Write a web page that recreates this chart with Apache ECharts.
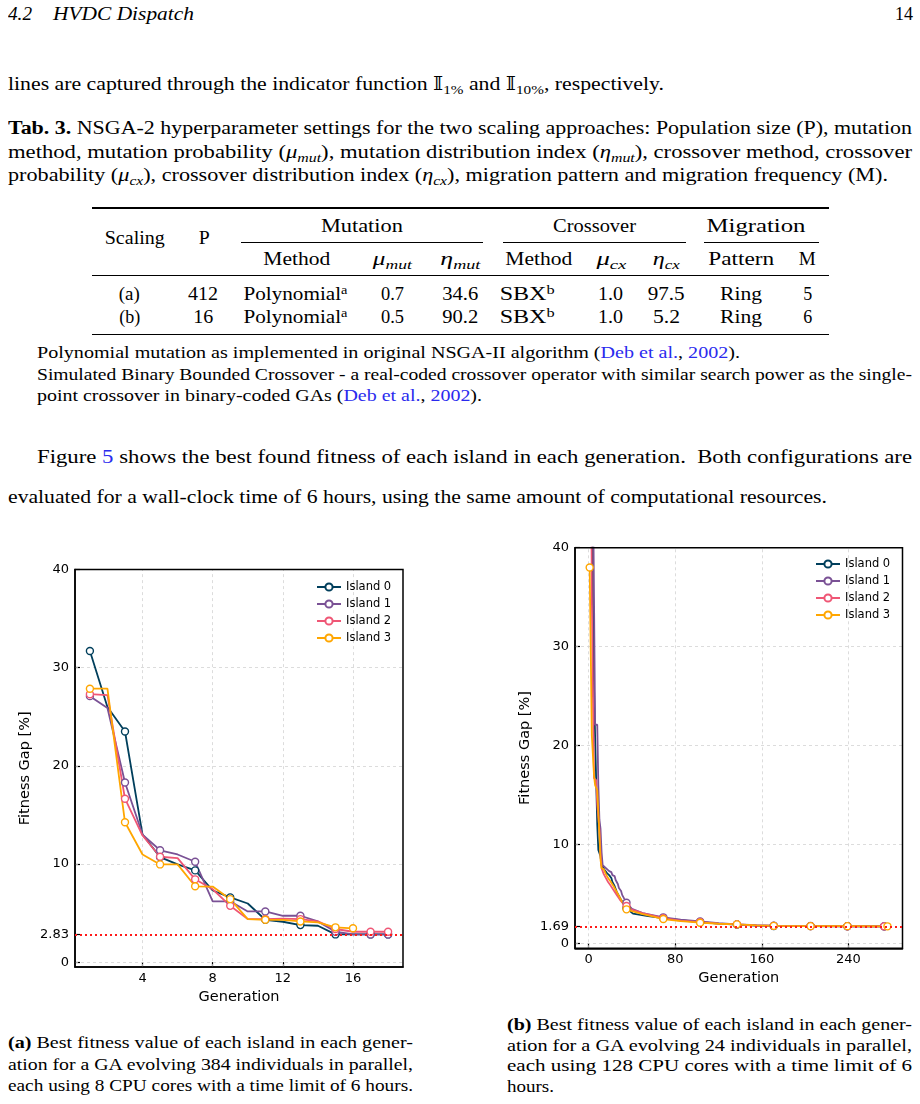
<!DOCTYPE html>
<html><head><meta charset="utf-8">
<script src="https://cdn.jsdelivr.net/npm/echarts@6/dist/echarts.min.js"></script>
<style>
html,body{margin:0;padding:0;background:#fff;}
body{width:920px;height:1104px;position:relative;overflow:hidden;font-family:'Liberation Serif','Times New Roman',Tinos,'DejaVu Serif','Noto Serif',serif;color:#000;}
.ln{position:absolute;white-space:nowrap;transform-origin:0 50%;}
.cw{position:absolute;width:400px;text-align:center;white-space:nowrap;}
.cw span.in{display:inline-block;}
.rule{position:absolute;background:#000;}
sub{font-size:0.7em;vertical-align:-0.3em;line-height:0;}
sup{font-size:0.68em;vertical-align:0.45em;line-height:0;}
.lk{color:#2a2aee;}
.bb{font-family:'DejaVu Serif','DejaVu Sans',serif;}
#chart{position:absolute;left:0;top:530px;width:920px;height:480px;}
</style></head><body>
<div id="chart"></div>
<script>
// ---------------- data: chart (a) ----------------
const generationsA = [1,2,3,4,5,6,7,8,9,10,11,12,13,14,15,16,17,18];
const island0A = [31.7,26.0,23.5,13.0,10.7,9.96,9.35,7.3,6.6,5.98,4.32,4.12,3.78,3.71,2.83,2.83,2.83,2.83];
const island1A = [27.1,25.9,18.3,13.0,11.4,10.97,10.23,6.2,6.2,5.17,5.17,4.73,4.73,4.15,3.1,2.83,2.83,2.83];
const island2A = [27.3,27.2,16.65,12.9,10.74,10.6,8.44,7.43,5.74,4.39,4.39,4.43,4.39,4.15,3.38,3.1,3.1,3.1];
const island3A = [27.86,27.86,14.25,10.97,9.96,9.96,7.73,7.7,6.42,4.39,4.32,4.32,4.15,4.05,3.55,3.45];
const ticksXA = [4,8,12,16];
const ticksYA = [0,2.83,10,20,30,40];
const refGapA = 2.83;

// ---------------- data: chart (b) ----------------
const gensB0 = [1,3,4,5,6,7,8,9,11,12,15,17,19,21,22,24,26,28,30,33,35,41,48,55,69,85,103,120,137,155,171,205,239,273];
const gapB0  = [80,52,34.3,26,21,16.5,12,9.45,8.8,7.9,7.4,7.1,6.9,6.6,6.2,5.8,5.2,4.8,4.4,3.9,3.55,3.0,2.87,2.75,2.55,2.35,2.15,2.0,1.9,1.8,1.76,1.74,1.73,1.72];
const gensB1 = [1,3,5,6,8,9,10,11,12,13,15,17,19,21,22,24,25,27,28,30,31,33,35,40,50,69,85,103,120,137,155,171,205,239,273];
const gapB1  = [90,60,35,22.1,22.1,16,12.5,11.6,9.2,7.9,7.7,7.5,7.3,7.2,6.9,6.8,6.4,6.0,5.6,5.3,4.9,4.5,4.11,3.5,3.05,2.63,2.4,2.22,2.05,1.92,1.83,1.78,1.75,1.74,1.72];
const gensB2 = [1,2,3,4,5,7,8,10,11,12,14,16,18,20,23,26,29,32,35,40,50,69,85,103,120,137,155,171,205,239,273];
const gapB2  = [85,55,35,25,16.7,16.5,14,11.5,9,7.6,7.0,6.6,6.2,5.9,5.4,4.9,4.4,4.0,3.78,3.4,3.05,2.55,2.3,2.15,2.0,1.92,1.82,1.77,1.74,1.73,1.72];
const gensB3 = [1,3,4,5,6,8,10,11,12,14,16,18,20,23,26,29,32,35,40,50,60,69,85,103,120,137,155,171,205,239,276];
const gapB3  = [38,21,20.9,17,16,15.5,11,8.5,7.6,7.5,7.0,6.6,6.3,5.8,5.2,4.6,4.0,3.44,3.25,2.95,2.7,2.46,2.25,2.09,1.98,1.92,1.82,1.77,1.74,1.74,1.72];
const markerGensB = [1,35,69,103,137,171,205,239];
const ticksXB = [0,80,160,240];
const ticksYB = [0,1.69,10,20,30,40];
const refGapB = 1.69;

const islandNames = ['Island 0','Island 1','Island 2','Island 3'];
const islandColors = ['#003f5c','#7a5195','#ef5675','#ffa600'];

// ---------------- page text ----------------
const L = [
 ['<i>4.2</i>', 8, 14, 24, 18.5],
 ['<i>HVDC Dispatch</i>', 53, 14, 141, 18.5],
 ['14', 895, 14, 18, 18.5],
 ['lines are captured through the indicator function <span class="bb">𝕀</span><sub>1%</sub> and <span class="bb">𝕀</span><sub>10%</sub>, respectively.', 8, 84, 656, 18.5],
 ['<b>Tab. 3.</b> NSGA-2 hyperparameter settings for the two scaling approaches: Population size (P), mutation', 8, 128, 904, 18.5],
 ['method, mutation probability (<i>μ<sub>mut</sub></i>), mutation distribution index (<i>η<sub>mut</sub></i>), crossover method, crossover', 8, 152, 904, 18.5],
 ['probability (<i>μ<sub>cx</sub></i>), crossover distribution index (<i>η<sub>cx</sub></i>), migration pattern and migration frequency (M).', 8, 175, 880, 18.5],
 ['Polynomial mutation as implemented in original NSGA-II algorithm (<span class="lk">Deb et al.</span>, <span class="lk">2002</span>).', 37, 353, 703, 16],
 ['Simulated Binary Bounded Crossover - a real-coded crossover operator with similar search power as the single-', 37, 375, 875, 16],
 ['point crossover in binary-coded GAs (<span class="lk">Deb et al.</span>, <span class="lk">2002</span>).', 37, 396, 445, 16],
 ['Figure <span class="lk">5</span> shows the best found fitness of each island in each generation.&nbsp; Both configurations are', 37, 457, 875, 18.5],
 ['evaluated for a wall-clock time of 6 hours, using the same amount of computational resources.', 8, 497, 819, 18.5],
 ['<b>(a)</b> Best fitness value of each island in each gener-', 8, 1043, 405, 16.5],
 ['ation for a GA evolving 384 individuals in parallel,', 8, 1064.5, 405, 16.5],
 ['each using 8 CPU cores with a time limit of 6 hours.', 8, 1086, 405, 16.5],
 ['<b>(b)</b> Best fitness value of each island in each gener-', 507, 1025, 405, 16.5],
 ['ation for a GA evolving 24 individuals in parallel,', 507, 1045.5, 405, 16.5],
 ['each using 128 CPU cores with a time limit of 6', 507, 1066, 405, 16.5],
 ['hours.', 507, 1086.5, 47, 16.5]
];
const T = [
 ['Scaling',135,238,60],['P',204.5,238,11],
 ['Mutation',362,226,82],['Crossover',594.5,226,83],['Migration',755.5,226,99],
 ['Method',296.5,259,67],['<i>μ<sub>mut</sub></i>',392.5,259,39],['<i>η<sub>mut</sub></i>',460,259,40],
 ['Method',538.5,259,67],['<i>μ<sub>cx</sub></i>',611,259,30],['<i>η<sub>cx</sub></i>',666.5,259,27],
 ['Pattern',741,259,66],['M',807.5,259,17],
 ['(a)',129.5,294,21],['412',203,294,30],['Polynomial<sup>a</sup>',295,294,104],['0.7',392.5,294,23],['34.6',460,294,36],
 ['SBX<sup>b</sup>',527,294,55],['1.0',610.5,294,25],['97.5',666.5,294,37],['Ring',741,294,42],['5',807.5,294,9],
 ['(b)',129.5,317,21],['16',203,317,20],['Polynomial<sup>a</sup>',295,317,104],['0.5',392.5,317,23],['90.2',460,317,36],
 ['SBX<sup>b</sup>',527,317,55],['1.0',610.5,317,25],['5.2',666.5,317,27],['Ring',741,317,42],['6',807.5,317,9]
];
const R = [[92,208,737,1.6],[241,242,242,0.9],[503,242,183,0.9],[704,242,115,0.9],[92,275.5,737,0.9],[92,334.5,737,1.6]];

L.forEach(([h,x,y,w,fs])=>{
  const d=document.createElement('div'); d.className='ln'; d.innerHTML=h;
  d.style.left=x+'px'; d.style.fontSize=fs+'px'; d.style.lineHeight=(fs*1.2)+'px';
  d.style.top=(y-fs*0.6)+'px'; d.dataset.w=w; document.body.appendChild(d);
});
T.forEach(([h,cx,cy,w])=>{
  const d=document.createElement('div'); d.className='cw';
  d.style.left=(cx-200)+'px'; d.style.top=(cy-11)+'px'; d.style.fontSize='18.5px'; d.style.lineHeight='22px';
  d.innerHTML='<span class="in" data-w="'+w+'">'+h+'</span>'; document.body.appendChild(d);
});
R.forEach(([x,y,w,t])=>{
  const d=document.createElement('div'); d.className='rule';
  d.style.left=x+'px'; d.style.top=(y-t/2)+'px'; d.style.width=w+'px'; d.style.height=t+'px';
  document.body.appendChild(d);
});
function fit(){
  document.querySelectorAll('.ln').forEach(d=>{
    d.style.transform='none'; const nw=d.getBoundingClientRect().width;
    d.style.transform='scaleX('+(d.dataset.w/nw)+')';
  });
  document.querySelectorAll('.cw span.in').forEach(s=>{
    s.style.transform='none'; const nw=s.getBoundingClientRect().width;
    s.style.transform='scaleX('+(s.dataset.w/nw)+')';
  });
}
fit();
if(document.fonts&&document.fonts.ready){document.fonts.ready.then(fit);}

// ---------------- chart ----------------
const FONT='DejaVu Sans';
function lineSeries(name,color,xs,ys,isMarked,gi){
  const n=ys.length;
  return {
    type:'line', name:name, xAxisIndex:gi, yAxisIndex:gi,
    data: ys.map((v,i)=>({value:[xs[i],v], symbol: isMarked(xs[i],i,n)?'circle':'none'})),
    symbol:'circle', symbolSize:7, showSymbol:true, clip:true, z:3,
    itemStyle:{color:'#fff', borderColor:color, borderWidth:1.4},
    lineStyle:{color:color, width:1.8}, emphasis:{disabled:true}, animation:false
  };
}
function helperSeries(gi,ticksX,ticksY,ref,ymax){
  return [{
    type:'line', xAxisIndex:gi, yAxisIndex:gi, data:[], silent:true, animation:false,
    markLine:{silent:true, symbol:['none','none'], label:{show:false}, z:1, animation:false,
      lineStyle:{color:'#d4d4d4', type:[3,3], width:0.8},
      data: ticksY.filter(v=>v!==ref&&v!==ymax).map(v=>({yAxis:v})).concat(ticksX.map(v=>({xAxis:v})))}
  },{
    type:'line', xAxisIndex:gi, yAxisIndex:gi, data:[], silent:true, animation:false,
    markLine:{silent:true, symbol:['none','none'], label:{show:false}, z:6, animation:false,
      lineStyle:{color:'#ff1a1a', type:[2,3], width:2}, data:[{yAxis:ref}]}
  }];
}
function xAxisCfg(gi,min,max,ticks){
  return {type:'value', gridIndex:gi, min:min, max:max,
    axisLine:{show:true,onZero:false,lineStyle:{color:'#000',width:1.5}},
    axisTick:{show:true,inside:true,length:5,lineStyle:{color:'#000',width:1.2},customValues:ticks},
    axisLabel:{customValues:ticks,fontFamily:FONT,fontSize:13,color:'#000',margin:5},
    splitLine:{show:false},
    name:'Generation', nameLocation:'middle', nameGap:22,
    nameTextStyle:{fontFamily:FONT,fontSize:14.5,color:'#000'}};
}
function yAxisCfg(gi,min,max,ticks){
  return {type:'value', gridIndex:gi, min:min, max:max,
    axisLine:{show:true,onZero:false,lineStyle:{color:'#000',width:1.5}},
    axisTick:{show:true,inside:true,length:5,lineStyle:{color:'#000',width:1.2},customValues:ticks},
    axisLabel:{customValues:ticks,fontFamily:FONT,fontSize:13,color:'#000',margin:6,formatter:v=>String(v)},
    splitLine:{show:false},
    name:'Fitness Gap [%]', nameLocation:'middle', nameGap:42, nameRotate:90,
    nameTextStyle:{fontFamily:FONT,fontSize:14.5,color:'#000'}};
}
function legendCfg(left,top){
  return {data:islandNames, orient:'vertical', left:left, top:top, itemWidth:24, itemHeight:9, itemGap:3,
    selectedMode:false, textStyle:{fontFamily:FONT,fontSize:11.5,color:'#000',lineHeight:14}};
}
const markA=(x,i,n)=>(i%2===0)||(i===n-1);
const markB=(x,i,n)=>markerGensB.indexOf(x)>=0||(i===n-1);
const seriesA=[island0A,island1A,island2A,island3A].map((ys,k)=>lineSeries(islandNames[k],islandColors[k],generationsA,ys,markA,0));
const gensB=[gensB0,gensB1,gensB2,gensB3], gapsB=[gapB0,gapB1,gapB2,gapB3];
const seriesB=gapsB.map((ys,k)=>lineSeries(islandNames[k],islandColors[k],gensB[k],ys,markB,1));

const chart=echarts.init(document.getElementById('chart'),null,{renderer:'canvas'});
chart.setOption({
  animation:false, backgroundColor:'transparent',
  grid:[
    {left:75,top:39.5,width:328,height:400.5,show:true,borderColor:'#000',borderWidth:1.5,backgroundColor:'transparent',z:5},
    {left:575,top:17.7,width:327.5,height:400.6,show:true,borderColor:'#000',borderWidth:1.5,backgroundColor:'transparent',z:5}
  ],
  xAxis:[xAxisCfg(0,0.15,18.85,ticksXA), xAxisCfg(1,-12.55,289.9,ticksXB)],
  yAxis:[yAxisCfg(0,-0.5,40,ticksYA), yAxisCfg(1,-0.5,40,ticksYB)],
  legend:[legendCfg(311,45), legendCfg(810,22)],
  series: helperSeries(0,ticksXA,ticksYA,refGapA,40).concat(helperSeries(1,ticksXB,ticksYB,refGapB,40), seriesA, seriesB)
});
</script>
</body></html>
